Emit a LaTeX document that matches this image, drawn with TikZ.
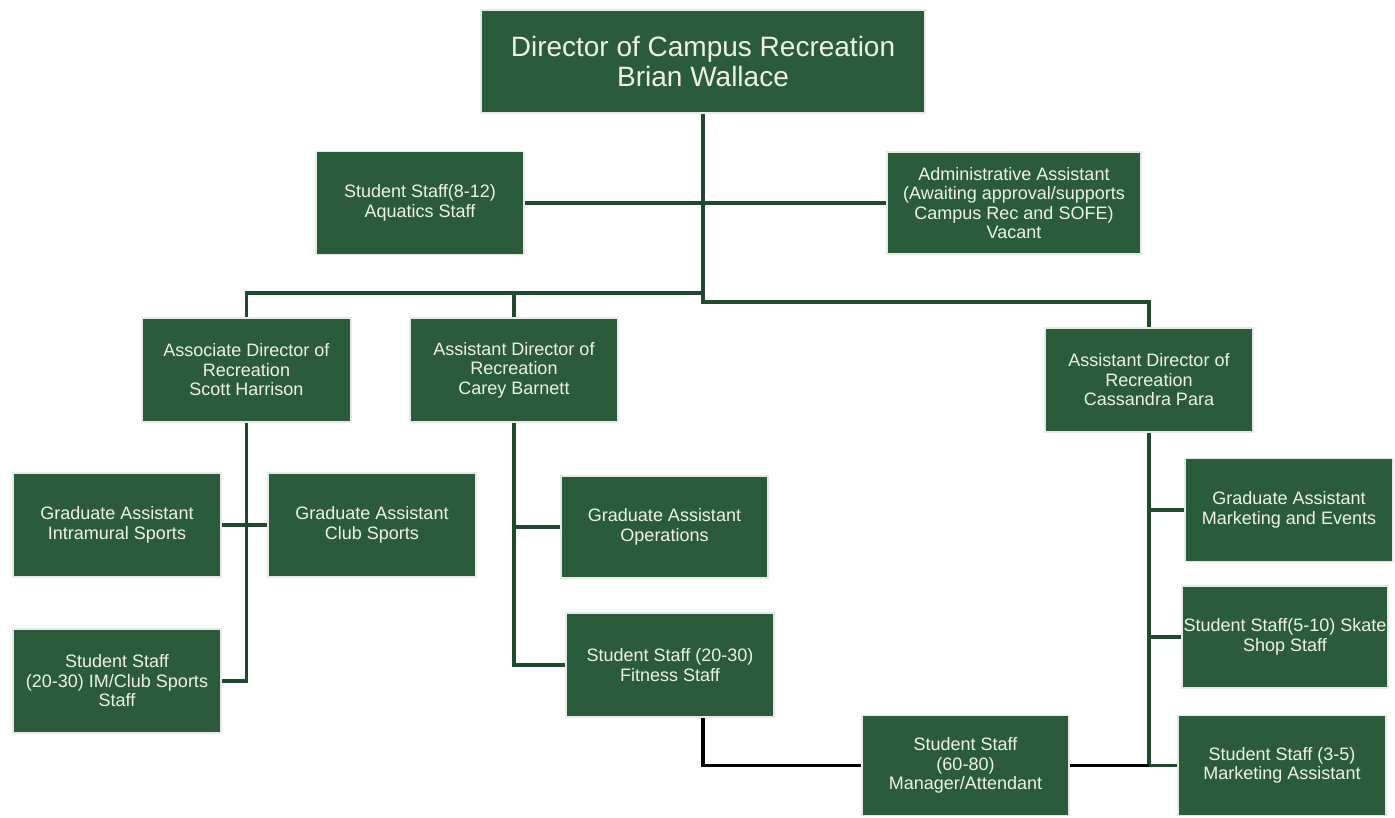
\documentclass[tikz,border=0pt]{standalone}
\usepackage{fontspec}
\setmainfont{Liberation Sans}
\definecolor{boxgreen}{HTML}{2A5C3B}
\definecolor{linegreen}{HTML}{1F4A2E}
\definecolor{boxedge}{HTML}{E6EAE6}
\definecolor{boxtext}{HTML}{EEF3E8}
\tikzset{
  box/.style={rectangle, fill=boxgreen, draw=boxedge, line width=1.5pt,
    text=boxtext, align=center, inner sep=0pt,
    font=\fontsize{18}{19.5}\selectfont},
  boxsize/.style 2 args={minimum width=#1pt, minimum height=#2pt},
  link/.style={draw=linegreen, line width=3.5pt},
  blacklink/.style={draw=black, line width=3.2pt},
  thinlink/.style={draw=black, line width=2.2pt}
}
\begin{document}
\begin{tikzpicture}[x=1pt, y=-1pt]
\useasboundingbox[fill=white] (0,0) rectangle (1395,817);

% boxes
\node[box, boxsize={444}{103}, font=\fontsize{28}{30}\selectfont] (dir) at (703,61.5)
  {Director of Campus Recreation\\Brian Wallace};
\node[box, boxsize={208}{103}] (aqu) at (420,203)
  {Student Staff(8-12)\\Aquatics Staff};
\node[box, boxsize={254}{102}] (adm) at (1014,203)
  {Administrative Assistant\\(Awaiting approval/supports\\Campus Rec and SOFE)\\Vacant};
\node[box, boxsize={209}{104}] (assoc) at (246.5,370)
  {Associate Director of\\Recreation\\Scott Harrison};
\node[box, boxsize={208}{104}] (carey) at (514,370)
  {Assistant Director of\\Recreation\\Carey Barnett};
\node[box, boxsize={208}{104}] (cass) at (1149,380)
  {Assistant Director of\\Recreation\\Cassandra Para};
\node[box, boxsize={208}{104}] (gim) at (117,525)
  {Graduate Assistant\\Intramural Sports};
\node[box, boxsize={208}{104}] (gclub) at (372,525)
  {Graduate Assistant\\Club Sports};
\node[box, boxsize={208}{104}] (sim) at (117,681)
  {Student Staff\\(20-30) IM/Club Sports\\Staff};
\node[box, boxsize={207}{102}] (gops) at (664.5,527)
  {Graduate Assistant\\Operations};
\node[box, boxsize={208}{104}] (sfit) at (670,665)
  {Student Staff (20-30)\\Fitness Staff};
\node[box, boxsize={207}{100}] (smgr) at (965.5,765.5)
  {Student Staff\\(60-80)\\Manager/Attendant};
\node[box, boxsize={208}{103}] (gmkt) at (1289,510)
  {Graduate Assistant\\Marketing and Events};
\node[box, boxsize={206}{102}] (sskate) at (1285,637)
  {Student Staff(5-10) Skate\\Shop Staff};
\node[box, boxsize={208}{100}] (sma) at (1282,765.5)
  {Student Staff (3-5)\\Marketing Assistant};

% reporting lines from the director
\coordinate (bus) at (703,293);
\coordinate (busR) at (703,302);
\draw[link] (dir.south) -- (busR) -| (cass.north);
\draw[link] (bus) -| (assoc.north);
\draw[link] (carey.north) -- (carey.north |- bus);
\draw[link] (aqu.east) -- (adm.west);

% associate director branch
\draw[link] (assoc.south) |- (sim.east);
\draw[link] (gim.east) -- (gclub.west);

% assistant director (Barnett) branch
\draw[link] (carey.south) |- (sfit.west);
\draw[link] (gops.west) -- (gops.west -| carey.south);

% assistant director (Para) branch
\draw[link] (cass.south) |- (sma.west);
\draw[link] (gmkt.west) -- (gmkt.west -| cass.south);
\draw[link] (sskate.west) -- (sskate.west -| cass.south);

% shared manager/attendant staff
\draw[blacklink] ([xshift=33pt]sfit.south) |- (smgr.west);
\draw[thinlink] (smgr.east) -- (smgr.east -| cass.south);
\end{tikzpicture}
\end{document}
